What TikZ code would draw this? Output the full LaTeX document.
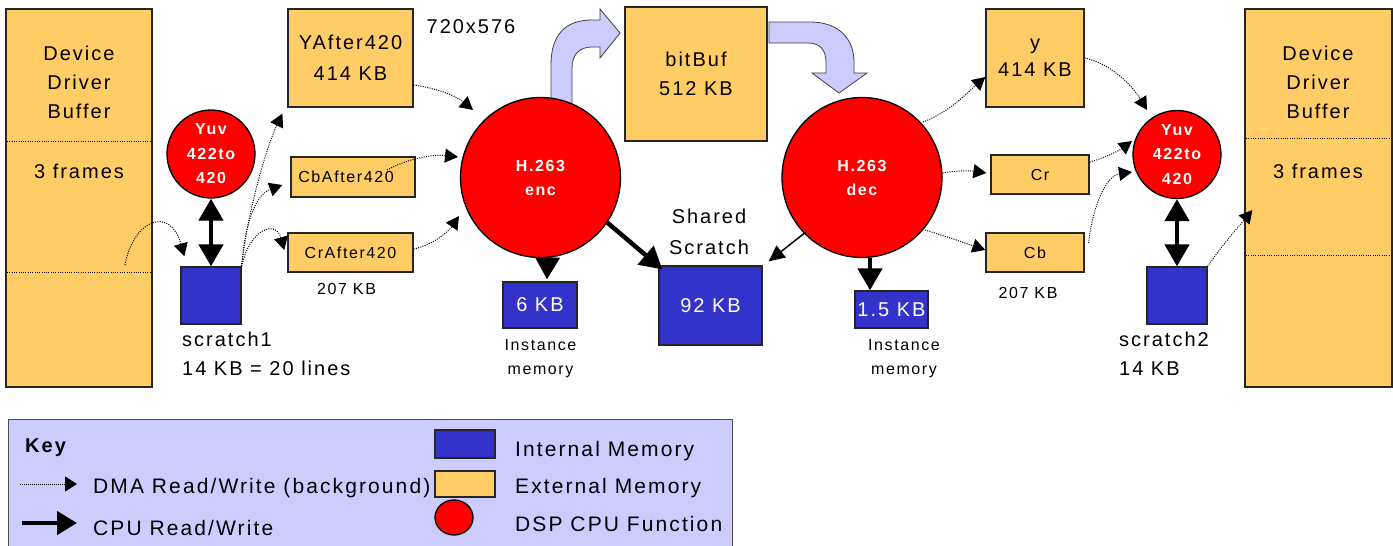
\documentclass[tikz,border=0pt]{standalone}
\usepackage{fontspec}
\setmainfont{Liberation Sans}[LetterSpace=10]
\usetikzlibrary{arrows.meta}
\definecolor{extc}{HTML}{FFCC66}
\definecolor{intc}{HTML}{3333CC}
\definecolor{keyc}{HTML}{CCCCFF}
\definecolor{fnc}{HTML}{FF0000}
\newcommand\fbig{\fontsize{20}{29}\selectfont}
\newcommand\fbigw{\fontsize{20}{31}\selectfont}
\newcommand\fkey{\fontsize{21}{29}\selectfont}
\newcommand\fsml{\fontsize{16}{24}\selectfont}
\begin{document}
\begin{tikzpicture}[x=1pt,y=-1pt,
  ext/.style={draw=black!85,line width=1.3pt,fill=extc,inner sep=0pt,align=center,font=\fbig},
  int/.style={draw=black!85,line width=1.3pt,fill=intc,inner sep=0pt,text=white,font=\fbig},
  fn/.style={circle,draw=black,line width=1.3pt,fill=fnc,text=white,inner sep=0pt,align=center,font=\fsml\bfseries},
  lbl/.style={inner sep=0pt,align=center,font=\fbig},
  slbl/.style={inner sep=0pt,align=center,font=\fsml},
  dma/.style={dash pattern=on 1pt off 1.3pt,line width=1pt,-{Triangle[length=13pt,width=14pt]}},
  cpu/.style={line width=4.5pt,-{Triangle[length=22pt,width=24pt]}},
  cpud/.style={line width=4.5pt,{Triangle[length=22pt,width=24pt]}-{Triangle[length=22pt,width=24pt]}},
  cputhin/.style={line width=1.5pt,-{Triangle[length=16pt,width=15pt]}},
  bigarrow/.style={fill=keyc,draw=black!75,line width=0.8pt},
  divider/.style={dash pattern=on 1pt off 1.3pt,line width=1pt}
]
\useasboundingbox (0,0) rectangle (1393,546);

% big light arrows (behind circles)
\draw[bigarrow] (551,110) -- (551,65) .. controls (551,35) and (565,20) .. (592,20) -- (600,20) -- (600,9) -- (620,33) -- (600,58) -- (600,47) -- (592,47) .. controls (580,47) and (572,54) .. (572,68) -- (572,110) -- cycle;
\draw[bigarrow] (769,22) -- (810,22) .. controls (840,22) and (854,40) .. (854,62) -- (854,73) -- (867,73) -- (839,93) -- (812,73) -- (826,73) -- (826,62) .. controls (826,50) and (820,43) .. (808,43) -- (769,43) -- cycle;

% device driver buffers
\node[ext,minimum width=146pt,minimum height=378pt] (ddbL) at (79,198) {};
\draw[divider] (7,141) -- (151,141);
\draw[divider] (7,272) -- (151,272);
\node[lbl] (ddbLt) at (79,82) {Device\\Driver\\Buffer};
\node[lbl] (ddbLf) at (79,171) {3 frames};

\node[ext,minimum width=147pt,minimum height=378pt] (ddbR) at (1318.5,198) {};
\draw[divider] (1246,138) -- (1391,138);
\draw[divider] (1246,255) -- (1391,255);
\node[lbl] (ddbRt) at (1318,82) {Device\\Driver\\Buffer};
\node[lbl] (ddbRf) at (1318,171) {3 frames};

% left side
\node[fn,minimum size=88pt,font=\fontsize{16}{24.5}\selectfont\bfseries] (yuvL) at (211,154) {Yuv\\422to\\420};
\node[int,minimum width=60pt,minimum height=57pt] (s1) at (211,295.5) {};
\node[lbl,align=left,anchor=west] (s1t) at (182,353.5) {scratch1\\14 KB = 20 lines};

\node[ext,minimum width=125pt,minimum height=98pt,font=\fbigw] (yaf) at (350.5,58) {YAfter420\\414 KB};
\node[ext,minimum width=124pt,minimum height=40pt,font=\fsml] (cbaf) at (353,177) {\hspace*{-14pt}CbAfter420};
\node[ext,minimum width=125pt,minimum height=39pt,font=\fsml] (craf) at (350.5,252.5) {CrAfter420};
\node[slbl] (kb207L) at (346.5,289) {207 KB};
\node[lbl] (res) at (471,27) {720x576};

% encoder
\node[fn,minimum size=160pt] (enc) at (540.5,177.5) {H.263\\enc};
\node[ext,minimum width=142pt,minimum height=134pt,font=\fbig] (bitbuf) at (696,74) {bitBuf\\512 KB};
\node[int,minimum width=74pt,minimum height=46pt] (m6) at (540,305) {6 KB};
\node[slbl] (inst1) at (540.5,359) {Instance\\memory};
\node[lbl,font=\fbigw] (shs) at (709,232) {Shared\\Scratch};
\node[int,minimum width=103pt,minimum height=79pt] (m92) at (710.5,305.5) {92 KB};

% decoder
\node[fn,minimum size=160pt] (dec) at (862,177.5) {H.263\\dec};
\node[int,minimum width=73pt,minimum height=37pt] (m15) at (891.5,309.5) {1.5 KB};
\node[slbl] (inst2) at (904,359) {Instance\\memory};

% right side
\node[ext,minimum width=98pt,minimum height=98pt,font=\fontsize{20}{27}\selectfont] (ybox) at (1035,58) {y\\414 KB};
\node[ext,minimum width=98pt,minimum height=39pt,font=\fsml] (cr) at (1040,174.5) {Cr};
\node[ext,minimum width=98pt,minimum height=39pt,font=\fsml] (cb) at (1035,252.5) {Cb};
\node[slbl] (kb207R) at (1028,293) {207 KB};
\node[fn,minimum size=88pt,font=\fontsize{16}{24.5}\selectfont\bfseries] (yuvR) at (1177,154.5) {Yuv\\422to\\420};
\node[int,minimum width=60pt,minimum height=57pt] (s2) at (1177,295.5) {};
\node[lbl,align=left,anchor=west] (s2t) at (1119,353.5) {scratch2\\14 KB};

% DMA arrows, left
\draw[dma] ([xshift=46pt,yshift=-67pt]ddbL.center) .. controls (133,220) and (170,205) .. ([xshift=4pt,yshift=10pt]s1.north west);
\draw[dma] (s1.north east) .. controls (246,220) and (265,150) .. ([xshift=-5pt,yshift=-6pt]yaf.south west);
\draw[dma] (s1.north east) .. controls (246,215) and (258,194) .. ([xshift=-8pt,yshift=-8pt]cbaf.west);
\draw[dma] (s1.north east) .. controls (250,228) and (276,220) .. ([xshift=-3pt,yshift=2.5pt]craf.west);
\draw[dma] ([yshift=-27pt]yaf.east) .. controls (435,88) and (455,95) .. ([xshift=-67.5pt,yshift=67.5pt]enc.center);
\draw[dma] ([xshift=34pt,yshift=7pt]cbaf.center) .. controls (405,160) and (430,154) .. ([xshift=-82.5pt,yshift=20.5pt]enc.center);
\draw[dma] ([yshift=3.5pt]craf.east) .. controls (433,245) and (448,232) .. ([xshift=-81.5pt,yshift=-38.5pt]enc.center);

% DMA arrows, right
\draw[dma] ([xshift=61pt,yshift=55.5pt]dec.center) .. controls (950,112) and (968,92) .. ([yshift=-19pt]ybox.west);
\draw[dma] ([yshift=4.5pt]dec.east) .. controls (958,170) and (972,171) .. ([xshift=-4pt,yshift=1.5pt]cr.west);
\draw[dma] ([xshift=63pt,yshift=-52.5pt]dec.center) .. controls (945,236) and (965,243) .. ([yshift=2.5pt]cb.west);
\draw[dma] (ybox.east) .. controls (1108,63) and (1130,82) .. ([xshift=-30pt,yshift=44.5pt]yuvR.center);
\draw[dma] ([yshift=12.5pt]cr.east) .. controls (1105,158) and (1120,150) .. ([xshift=-45pt,yshift=13.5pt]yuvR.center);
\draw[dma] ([xshift=4pt,yshift=9.5pt]cb.east) .. controls (1092,210) and (1105,176) .. ([xshift=-45pt,yshift=-17.5pt]yuvR.center);
\draw[dma] (s2.north east) .. controls (1222,245) and (1240,225) .. ([xshift=8pt,yshift=-12pt]ddbR.west);

% CPU arrows
\draw[cpud] (yuvL.south) -- (s1.north);
\draw[cpud] (yuvR.south) -- (s2.north);
\draw[cpu] ([xshift=7pt]enc.south) -- ([xshift=7pt,yshift=2pt]m6.north);
\draw[cpu] (enc.-34) -- ([xshift=4pt,yshift=-4pt]m92.north west);
\draw[cputhin] (dec.224) -- ([xshift=6pt,yshift=4pt]m92.north east);
\draw[cpu] ([xshift=8pt]dec.south) -- ([xshift=8pt]dec.south |- m15.north);

% key
\node[draw=black!70,line width=1pt,fill=keyc,minimum width=724pt,minimum height=141pt,inner sep=0pt] (keybox) at (370,489.5) {};
\node[inner sep=0pt,anchor=base west,font=\fbig\bfseries] (keyt) at (25,452) {Key};
\coordinate (kd1) at (20,484);
\coordinate (kd2) at (77,484);
\draw[dash pattern=on 1pt off 1pt,line width=1pt,-{Triangle[length=12pt,width=15pt]}] (kd1) -- (kd2);
\coordinate (kc1) at (22,523);
\coordinate (kc2) at (77,523);
\draw[line width=4.5pt,-{Triangle[length=20pt,width=23pt]}] (kc1) -- (kc2);
\node[inner sep=0pt,anchor=base west,font=\fkey] (kdt) at (93,493) {DMA Read/Write (background)};
\node[inner sep=0pt,anchor=base west,font=\fkey] (kct) at (93,535) {CPU Read/Write};
\node[draw=black!85,line width=1.3pt,fill=intc,minimum width=60pt,minimum height=28pt,inner sep=0pt] (kint) at (465,444) {};
\node[draw=black!85,line width=1.3pt,fill=extc,minimum width=60pt,minimum height=26pt,inner sep=0pt] (kext) at (465,484) {};
\draw[draw=black,line width=1.3pt,fill=fnc] (454,517.5) ellipse [x radius=19pt,y radius=17.5pt];
\node[inner sep=0pt,anchor=base west,font=\fkey] (kit) at (515,456) {Internal Memory};
\node[inner sep=0pt,anchor=base west,font=\fkey] (ket) at (515,493) {External Memory};
\node[inner sep=0pt,anchor=base west,font=\fkey] (kft) at (515,531) {DSP CPU Function};
\end{tikzpicture}
\end{document}
